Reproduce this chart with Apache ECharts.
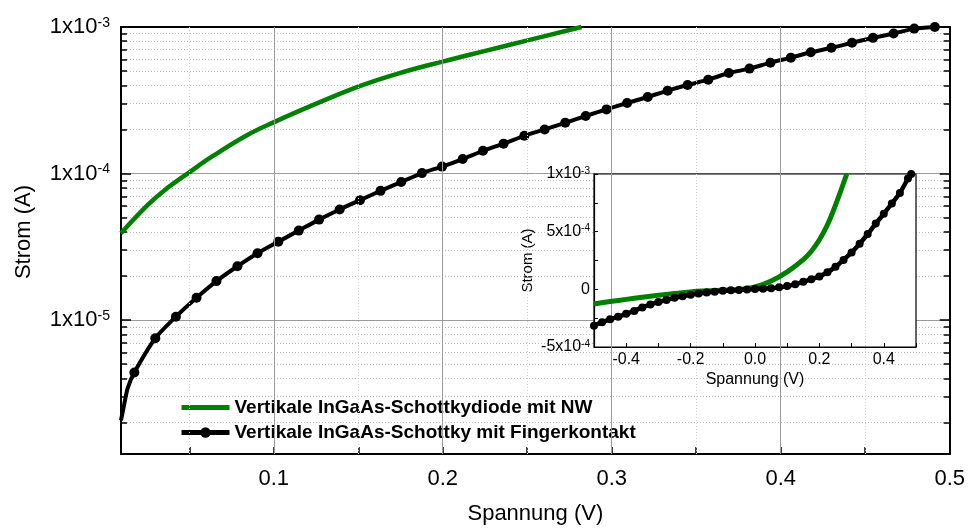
<!DOCTYPE html>
<html><head><meta charset="utf-8">
<script src="https://cdn.jsdelivr.net/npm/echarts@6/dist/echarts.min.js"></script>
<style>html,body{margin:0;padding:0;background:#fff}#c{width:968px;height:530px}</style>
</head><body><div id="c"></div>
<script>
// ---------- data (main, log plot) ----------
const fingerV = [0.0096,0.0116,0.0135,0.0175,0.0299,0.0421,0.0543,0.0661,0.0785,0.0904,0.1027,0.1148,0.1268,0.1390,0.1510,0.1632,0.1754,0.1877,0.1996,0.2118,0.2238,0.2360,0.2483,0.2603,0.2725,0.2846,0.2969,0.3091,0.3213,0.3331,0.3449,0.3571,0.3693,0.3815,0.3939,0.4060,0.4178,0.4300,0.4422,0.4546,0.4668,0.4790,0.4912];
const fingerI = [2.07e-6,2.70e-6,3.42e-6,4.39e-6,7.52e-6,1.055e-5,1.42e-5,1.845e-5,2.33e-5,2.86e-5,3.43e-5,4.08e-5,4.85e-5,5.69e-5,6.58e-5,7.62e-5,8.75e-5,1.007e-4,1.115e-4,1.256e-4,1.43e-4,1.60e-4,1.81e-4,2.00e-4,2.22e-4,2.47e-4,2.74e-4,3.03e-4,3.33e-4,3.68e-4,4.02e-4,4.37e-4,4.85e-4,5.20e-4,5.71e-4,6.18e-4,6.72e-4,7.21e-4,7.80e-4,8.43e-4,9.02e-4,9.75e-4,1.0e-3];
const fingerNoMarker = 3; // first points are line-only
const nwV = [0.0096,0.0253,0.0352,0.0500,0.0647,0.0844,0.1002,0.1238,0.1504,0.1740,0.2000,0.2252,0.2508,0.2821];
const nwI = [3.92e-5,6.08e-5,7.67e-5,1.02e-4,1.334e-4,1.832e-4,2.244e-4,2.951e-4,3.936e-4,4.83e-4,5.81e-4,6.87e-4,8.13e-4,1.0e-3];

// ---------- data (inset, linear plot) ----------
const insetFingerV = [-0.5,-0.475,-0.45,-0.425,-0.4,-0.375,-0.35,-0.325,-0.3,-0.275,-0.25,-0.225,-0.2,-0.175,-0.15,-0.125,-0.1,-0.075,-0.05,-0.025,0,0.025,0.05,0.075,0.1,0.125,0.15,0.175,0.2,0.225,0.25,0.275,0.3,0.325,0.35,0.375,0.4,0.425,0.45,0.475,0.485];
const insetFingerI = [-3.15e-4,-2.85e-4,-2.6e-4,-2.38e-4,-2.12e-4,-1.87e-4,-1.57e-4,-1.32e-4,-1.1e-4,-0.92e-4,-0.74e-4,-0.6e-4,-0.47e-4,-0.37e-4,-0.28e-4,-0.2e-4,-0.13e-4,-0.09e-4,-0.05e-4,-0.01e-4,0.02e-4,0.06e-4,0.1e-4,0.17e-4,0.28e-4,0.45e-4,0.65e-4,0.88e-4,1.12e-4,1.48e-4,1.95e-4,2.55e-4,3.2e-4,3.95e-4,4.8e-4,5.7e-4,6.55e-4,7.45e-4,8.35e-4,9.6e-4,1.0e-3];
const insetNwV = [-0.5,-0.45,-0.4,-0.35,-0.3,-0.25,-0.2,-0.15,-0.1,-0.05,0,0.05,0.1,0.15,0.175,0.2,0.225,0.25,0.285];
const insetNwI = [-1.27e-4,-1.06e-4,-0.87e-4,-0.69e-4,-0.52e-4,-0.36e-4,-0.22e-4,-0.13e-4,-0.07e-4,-0.02e-4,0.2e-4,0.72e-4,1.52e-4,2.58e-4,3.3e-4,4.3e-4,5.6e-4,7.3e-4,1.0e-3];

// ---------- ticks ----------
const xTickLabels = [0.1,0.2,0.3,0.4,0.5];
const xTickMarks = [0.05,0.1,0.15,0.2,0.25,0.3,0.35,0.4,0.45,0.5];
const xMajorGrid = [0.1,0.2,0.3,0.4];
const xMinorGrid = [0.05,0.15,0.25,0.35,0.45];
const yDecades = [1e-5,1e-4,1e-3];
const yMinor = [2e-6,3e-6,4e-6,5e-6,6e-6,7e-6,8e-6,9e-6,2e-5,3e-5,4e-5,5e-5,6e-5,7e-5,8e-5,9e-5,2e-4,3e-4,4e-4,5e-4,6e-4,7e-4,8e-4,9e-4];

const seriesNames = ['Vertikale InGaAs-Schottkydiode mit NW','Vertikale InGaAs-Schottky mit Fingerkontakt'];

const FONT = "'Liberation Sans', Arial, sans-serif";
const X_MIN = 0.0096, X_MAX = 0.5, Y_MIN = 1.22e-6, Y_MAX = 1e-3;

function pow10Label(v){
  const e = Math.round(Math.log10(v));
  return '{b|1x10}{s|' + e + '}';
}
function insetYLabel(v){
  const r = Math.round(v*1e5)/1e5;
  if (Math.abs(r) < 1e-9) return '{b|0}';
  if (Math.abs(Math.round(r/5e-4)*5e-4 - r) > 1e-9) return '';
  const e = Math.floor(Math.log10(Math.abs(r)) + 1e-9);
  const m = Math.round(r / Math.pow(10, e));
  return '{b|' + m + 'x10}{s|' + e + '}';
}

const chart = echarts.init(document.getElementById('c'), null, {renderer:'canvas'});

const gridLineData = [];
xMajorGrid.forEach(v => gridLineData.push({xAxis: v, lineStyle:{color:'#9a9a9a', width:1, type:'solid'}}));
xMinorGrid.forEach(v => gridLineData.push({xAxis: v, lineStyle:{color:'#d4d4d4', width:1, type:[1,2]}}));

const logAxisBase = {type:'log', logBase:10, min:Y_MIN, max:Y_MAX, gridIndex:0, minorTick:{show:false}};

const option = {
  animation:false,
  backgroundColor:'#fff',
  textStyle:{fontFamily:FONT},
  grid:[
    {left:121, right:16, top:27, bottom:72, containLabel:false},
    {left:594, top:174, width:322, height:173, show:true, backgroundColor:'#fff', borderColor:'#000', borderWidth:1.2, z:3}
  ],
  legend:{
    data:[
      {name:seriesNames[0], itemStyle:{color:'rgba(0,0,0,0)', borderWidth:0, opacity:0}, lineStyle:{color:'#008000', width:5}},
      {name:seriesNames[1], itemStyle:{color:'#000'}, lineStyle:{color:'#000', width:5}}
    ],
    orient:'vertical', left:179, top:398, padding:0, itemGap:6, itemWidth:48, itemHeight:13,
    textStyle:{fontFamily:FONT, fontSize:19, fontWeight:'bold', color:'#000'},
    selectedMode:false
  },
  xAxis:[
    {type:'value', gridIndex:0, min:X_MIN, max:X_MAX, position:'bottom',
     axisLine:{show:true, onZero:false, lineStyle:{color:'#000', width:2}},
     axisTick:{show:true, inside:true, length:7, customValues:xTickMarks, lineStyle:{color:'#000', width:1.5}},
     axisLabel:{customValues:xTickLabels, formatter:v=>v.toFixed(1), fontSize:22, color:'#000', margin:14, fontFamily:FONT},
     splitLine:{show:false},
     name:'Spannung (V)', nameLocation:'middle', nameGap:49,
     nameTextStyle:{fontSize:22, color:'#000', fontFamily:FONT}},
    {type:'value', gridIndex:0, min:X_MIN, max:X_MAX, position:'top',
     axisLine:{show:true, onZero:false, lineStyle:{color:'#000', width:2}},
     axisTick:{show:false}, axisLabel:{show:false}, splitLine:{show:false}},
    {type:'value', gridIndex:1, min:-0.5, max:0.5, interval:0.1, position:'bottom', z:4,
     axisLine:{show:true, onZero:false, lineStyle:{color:'#000', width:1.2}},
     axisTick:{show:true, inside:true, length:4, lineStyle:{color:'#000', width:1}},
     axisLabel:{fontSize:16, color:'#000', margin:5, fontFamily:FONT,
       formatter:v=>{const k=Math.round(v*10); return (k%2===0 && Math.abs(k)<5)? (k/10).toFixed(1) : '';}},
     splitLine:{show:false},
     name:'Spannung (V)', nameLocation:'middle', nameGap:25,
     nameTextStyle:{fontSize:16, color:'#000', fontFamily:FONT}}
  ],
  yAxis:[
    Object.assign({}, logAxisBase, {position:'left',
      axisLine:{show:true, onZero:false, lineStyle:{color:'#000', width:2}},
      axisTick:{show:true, inside:true, length:10, customValues:yDecades, lineStyle:{color:'#000', width:1.5}},
      axisLabel:{customValues:yDecades, formatter:pow10Label, margin:11,
        rich:{b:{fontSize:22, color:'#000', fontFamily:FONT, verticalAlign:'bottom'}, s:{fontSize:14, color:'#000', fontFamily:FONT, verticalAlign:'top'}}},
      splitLine:{show:true, lineStyle:{color:'#9a9a9a', width:1, type:'solid'}},
      name:'Strom (A)', nameLocation:'middle', nameGap:86, nameRotate:90,
      nameTextStyle:{fontSize:22, color:'#000', fontFamily:FONT, padding:[0,0,0,17]}}),
    Object.assign({}, logAxisBase, {position:'left',
      axisLine:{show:false},
      axisTick:{show:true, inside:true, length:6, customValues:yMinor, lineStyle:{color:'#000', width:1.5}},
      axisLabel:{show:false},
      splitLine:{show:true, lineStyle:{color:'#bdbdbd', width:1, type:[1,2]}}}),
    Object.assign({}, logAxisBase, {position:'right',
      axisLine:{show:true, onZero:false, lineStyle:{color:'#000', width:2}},
      axisTick:{show:true, inside:true, length:10, customValues:yDecades, lineStyle:{color:'#000', width:1.5}},
      axisLabel:{show:false}, splitLine:{show:false}}),
    Object.assign({}, logAxisBase, {position:'right',
      axisLine:{show:false},
      axisTick:{show:true, inside:true, length:6, customValues:yMinor, lineStyle:{color:'#000', width:1.5}},
      axisLabel:{show:false}, splitLine:{show:false}}),
    {type:'value', gridIndex:1, min:-5e-4, max:1e-3, interval:2.5e-4, position:'left', z:4,
     axisLine:{show:true, onZero:false, lineStyle:{color:'#000', width:1.2}},
     axisTick:{show:true, inside:true, length:4, lineStyle:{color:'#000', width:1}},
     axisLabel:{formatter:insetYLabel, margin:4,
       rich:{b:{fontSize:16, color:'#000', fontFamily:FONT, verticalAlign:'bottom'}, s:{fontSize:10, color:'#000', fontFamily:FONT, verticalAlign:'top'}}},
     splitLine:{show:false},
     name:'Strom (A)', nameLocation:'middle', nameGap:59, nameRotate:90,
     nameTextStyle:{fontSize:15, color:'#000', fontFamily:FONT}}
  ],
  series:[
    {type:'line', name:'_grid', xAxisIndex:0, yAxisIndex:0, data:[], z:1, silent:true,
     markLine:{silent:true, symbol:'none', label:{show:false}, animation:false, data:gridLineData}},
    {type:'line', name:seriesNames[0], xAxisIndex:0, yAxisIndex:0, z:2,
     data:nwV.map((v,i)=>[v,nwI[i]]), showSymbol:false, symbol:'none', smooth:0.4,
     lineStyle:{color:'#008000', width:4.5}, itemStyle:{color:'#008000'}},
    {type:'line', name:seriesNames[1], xAxisIndex:0, yAxisIndex:0, z:2,
     data:fingerV.map((v,i)=> i<fingerNoMarker ? {value:[v,fingerI[i]], symbol:'none'} : [v,fingerI[i]]),
     symbol:'circle', symbolSize:10, showAllSymbol:true, smooth:0.2,
     lineStyle:{color:'#000', width:4}, itemStyle:{color:'#000'}},
    {type:'line', name:'inset_nw', xAxisIndex:2, yAxisIndex:4, z:5,
     data:insetNwV.map((v,i)=>[v,insetNwI[i]]), symbol:'none', smooth:0.3,
     lineStyle:{color:'#008000', width:5}},
    {type:'line', name:'inset_finger', xAxisIndex:2, yAxisIndex:4, z:5,
     data:insetFingerV.map((v,i)=>[v,insetFingerI[i]]), symbol:'circle', symbolSize:8, showAllSymbol:true, smooth:0.2,
     lineStyle:{color:'#000', width:4.5}, itemStyle:{color:'#000'}}
  ]
};
chart.setOption(option);
</script>
</body></html>
